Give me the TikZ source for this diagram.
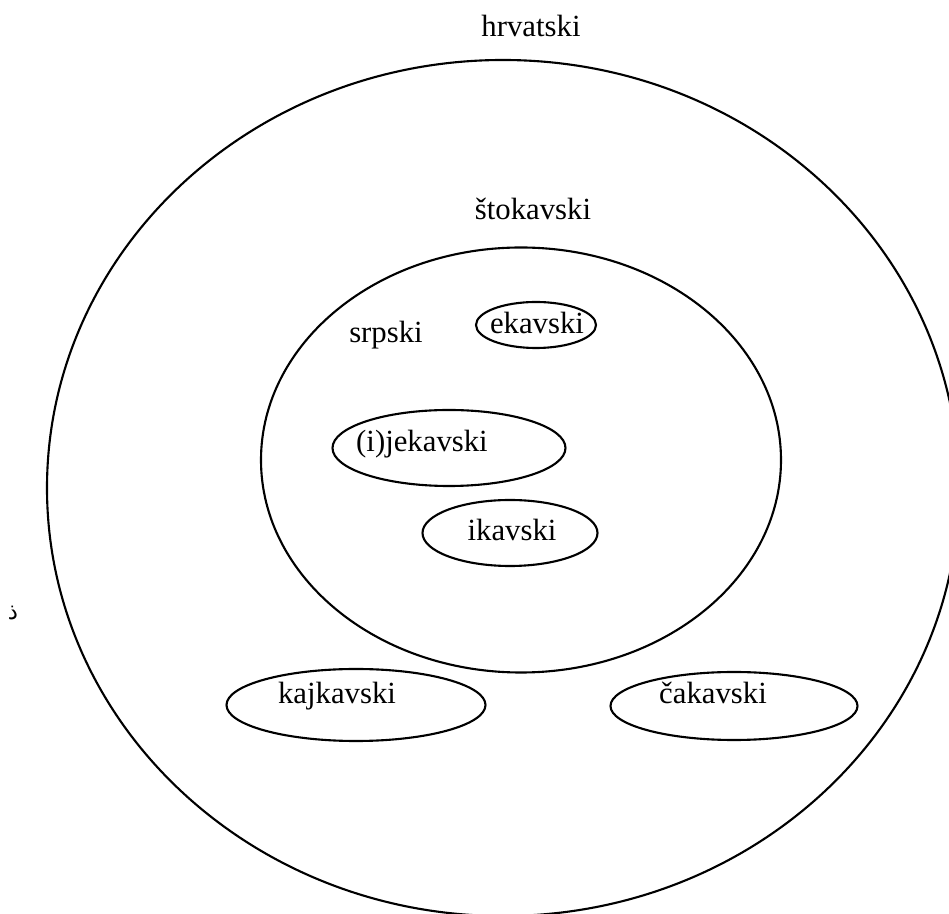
\documentclass[tikz,border=0pt]{standalone}
\usepackage{fontspec}
\setmainfont{Liberation Serif}
\newfontfamily\arabicfont[Script=Arabic]{DejaVu Sans}
\usetikzlibrary{shapes.geometric}
\tikzstyle{oval} = [ellipse, draw, line width=1.2pt, inner sep=0pt]
\tikzstyle{lbl} = [anchor=base, inner sep=0pt, font=\fontsize{17.5}{21}\selectfont]

\begin{document}
\begin{tikzpicture}[x=0.2mm, y=-0.2mm]
	\useasboundingbox (0,0) rectangle (949,914);
	\clip (0,0) rectangle (949,914);
	% circles
	\node (Outer) [oval, minimum width=182.4mm, minimum height=171.2mm] at (503,488) {};
	\node (Shto) [oval, minimum width=104mm, minimum height=85mm] at (521,460) {};
	\node (Eka) [oval, minimum width=24mm, minimum height=9.2mm] at (536,325) {};
	\node (Ijeka) [oval, minimum width=46.6mm, minimum height=15.2mm] at (449,448) {};
	\node (Ika) [oval, minimum width=35mm, minimum height=13.2mm] at (510,533) {};
	\node (Kaj) [oval, minimum width=51.8mm, minimum height=14.4mm] at (356,705) {};
	\node (Cha) [oval, minimum width=49.4mm, minimum height=13.6mm] at (734,706) {};
	% labels
	\node (Hrvatski) [lbl] at (531,37) {hrvatski};
	\node (Shtokavski) [lbl] at (533,220) {štokavski};
	\node (Srpski) [lbl] at (386,343) {srpski};
	\node (Ekavski) [lbl] at (537,334) {ekavski};
	\node (Ijekavski) [lbl] at (422,452) {(i)jekavski};
	\node (Ikavski) [lbl] at (512,541) {ikavski};
	\node (Kajkavski) [lbl] at (337,704) {kajkavski};
	\node (Chakavski) [lbl] at (713,704) {čakavski};
	\node (Mark) [inner sep=0pt, font=\arabicfont\fontsize{13}{14}\selectfont] at (13,613) {ذ};
\end{tikzpicture}
\end{document}
